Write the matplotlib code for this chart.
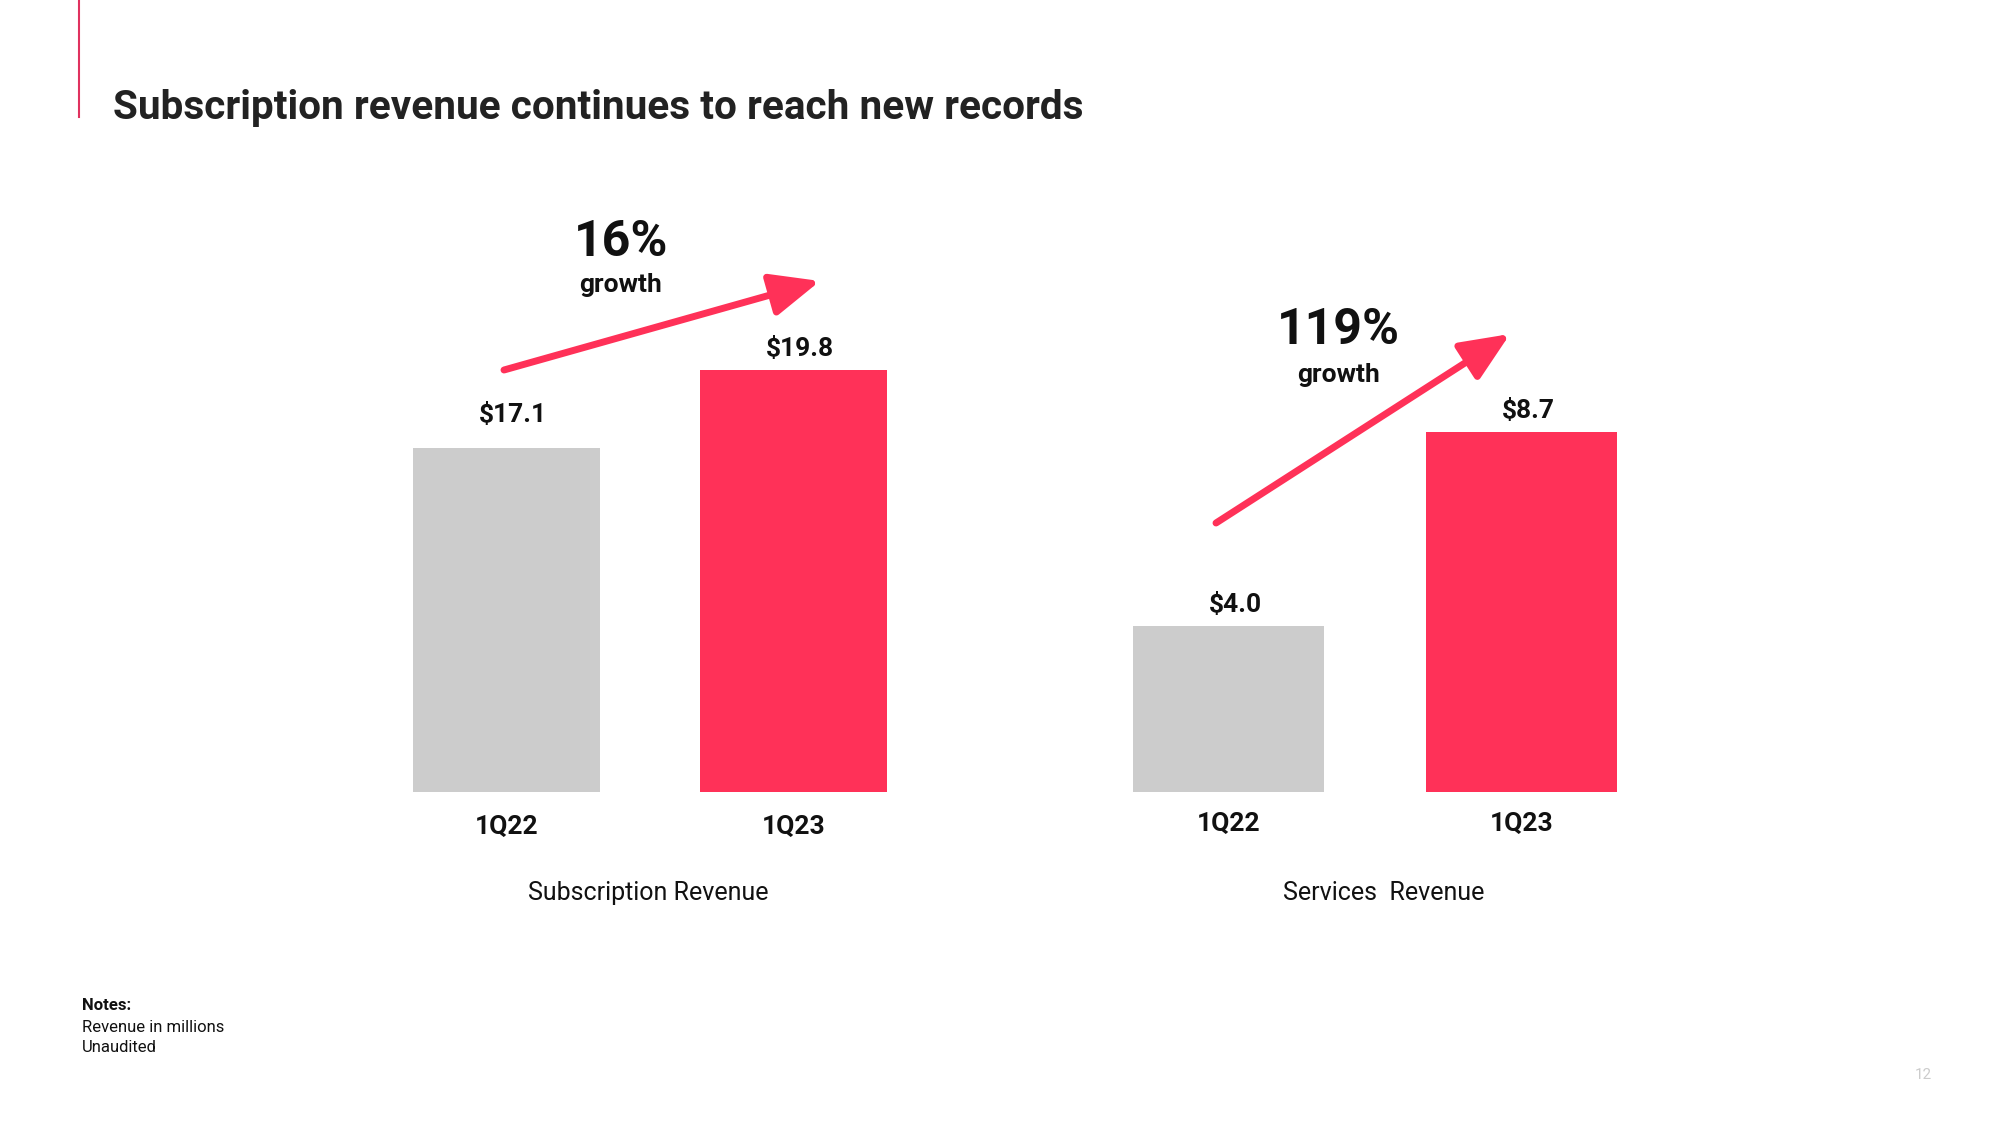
import matplotlib
matplotlib.use("Agg")
import matplotlib.pyplot as plt

plt.rcParams['font.family'] = ['Roboto', 'DejaVu Sans']

# ---- data ----
periods = ["1Q22", "1Q23"]
subscription_revenue = [17.1, 19.8]
services_revenue = [4.0, 8.7]
subscription_labels = ["$17.1", "$19.8"]
services_labels = ["$4.0", "$8.7"]
subscription_growth = "16%"
services_growth = "119%"
group_titles = ["Subscription Revenue", "Services  Revenue"]
title = "Subscription revenue continues to reach new records"
notes = ["Notes:", "Revenue in millions", "Unaudited"]
page_number = "12"

GREY = "#CCCCCC"
RED = "#FF3158"
TXT = "#111111"

W, H = 2000, 1125
fig = plt.figure(figsize=(20, 11.25), dpi=100)
fig.patch.set_facecolor("white")


def fx(px):
    return px / W


def fy(py):
    return 1 - py / H


# accent line and title
fig.add_artist(plt.Line2D([fx(79), fx(79)], [fy(0), fy(117)], color="#E0325F", lw=1.5))
fig.text(fx(113), fy(108), title, fontsize=29.2, fontweight="bold", color="#222222",
         va="center", ha="left")

bar_w = 0.65
ax_top, ax_bot = 150, 792


def make_ax(x0, x1, values, labels, ylim, label_offsets, cat_y):
    ax = fig.add_axes([fx(x0), fy(ax_bot), fx(x1 - x0), (ax_bot - ax_top) / H])
    xs = list(range(len(values)))
    ax.bar(xs, values, width=bar_w, color=[GREY, RED], bottom=0)
    ax.set_xlim(-bar_w / 2, len(values) - 1 + bar_w / 2)
    ax.set_ylim(*ylim)
    ax.axis("off")
    for x, v, lab, off in zip(xs, values, labels, label_offsets):
        ax.annotate(lab, (x, v), xytext=(5, off), textcoords="offset points",
                    ha="center", va="bottom", fontsize=19, fontweight="bold", color=TXT)
    for x, p in zip(xs, periods):
        ax.annotate(p, (x, 0), xycoords=("data", "figure fraction"),
                    xytext=(x, fy(cat_y)), textcoords=("data", "figure fraction"),
                    ha="center", va="center", fontsize=19, fontweight="bold", color=TXT)
    return ax


ax1 = make_ax(413, 886.5, subscription_revenue, subscription_labels, (5.2, 27.4), (15, 6.5), 827)
ax2 = make_ax(1133, 1617, services_revenue, services_labels, (0, 15.5), (6.5, 6.5), 824)

# group titles
fig.text(fx(648), fy(893), group_titles[0], fontsize=18, ha="center", va="center", color=TXT)
fig.text(fx(1384), fy(893), group_titles[1], fontsize=18, ha="center", va="center", color=TXT)

# growth arrows
arrow_kw = dict(arrowstyle="-|>,head_length=1.5,head_width=0.65", color=RED, lw=5,
                shrinkA=0, shrinkB=0, mutation_scale=20)
fig.add_artist(matplotlib.patches.FancyArrowPatch((fx(504), fy(370)), (fx(820), fy(281)),
                                                  transform=fig.transFigure, **arrow_kw))
fig.add_artist(matplotlib.patches.FancyArrowPatch((fx(1216), fy(523)), (fx(1510), fy(334)),
                                                  transform=fig.transFigure, **arrow_kw))

fig.text(fx(621), fy(243), subscription_growth, fontsize=36, fontweight="bold",
         ha="center", va="center", color=TXT)
fig.text(fx(621), fy(285), "growth", fontsize=19, fontweight="bold",
         ha="center", va="center", color=TXT)
fig.text(fx(1338), fy(331), services_growth, fontsize=36, fontweight="bold",
         ha="center", va="center", color=TXT)
fig.text(fx(1338), fy(375), "growth", fontsize=19, fontweight="bold",
         ha="center", va="center", color=TXT)

# notes
for i, (line, yy) in enumerate(zip(notes, [1006, 1027, 1048])):
    fig.text(fx(82), fy(yy), line, fontsize=12, fontweight="bold" if i == 0 else "normal",
             ha="left", va="center", color=TXT)

fig.text(fx(1923), fy(1075), page_number, fontsize=11, color="#CCCCCC", ha="center", va="center")

fig.savefig("out.png", dpi=100, facecolor="white")
